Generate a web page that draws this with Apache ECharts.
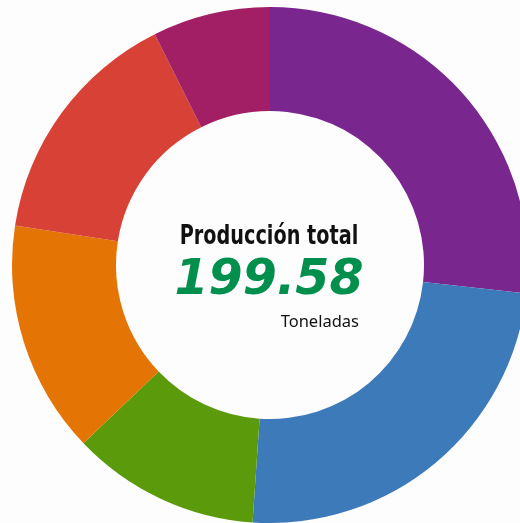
<!DOCTYPE html>
<html>
<head>
<meta charset="utf-8">
<style>
  html, body { margin: 0; padding: 0; background: #fdfdfd; }
  #chart { width: 520px; height: 523px; }
</style>
<script src="https://cdn.jsdelivr.net/npm/echarts@6/dist/echarts.min.js"></script>
</head>
<body>
<div id="chart"></div>
<script>
// data (toneladas), clockwise from 12 o'clock
const categories = ['Categoría 1', 'Categoría 2', 'Categoría 3', 'Categoría 4', 'Categoría 5', 'Categoría 6']
const values = [53.42, 48.52, 23.52, 29.12, 30.30, 14.70]
const colors = ['#7a268f', '#3d7aba', '#5b9a0b', '#e47404', '#d84136', '#a21f66']
const totalLabel = '199.58'

const myChart = echarts.init(document.getElementById('chart'))
const option = {
  backgroundColor: '#fdfdfd',
  color: colors,
  graphic: [
    {
      type: 'text',
      x: 269,
      y: 237,
      scaleX: 0.74,
      style: {
        text: 'Producción total',
        fontFamily: 'DejaVu Sans',
        fontWeight: 'bold',
        fontSize: 26,
        fill: '#111',
        align: 'center',
        verticalAlign: 'middle'
      }
    },
    {
      type: 'text',
      x: 269,
      y: 281,
      style: {
        text: totalLabel,
        fontFamily: 'DejaVu Sans',
        fontWeight: 'bold',
        fontStyle: 'italic',
        fontSize: 49,
        fill: '#008f4c',
        align: 'center',
        verticalAlign: 'middle'
      }
    },
    {
      type: 'text',
      x: 359,
      y: 322,
      style: {
        text: 'Toneladas',
        fontFamily: 'Noto Sans',
        fontSize: 16.5,
        fill: '#111',
        align: 'right',
        verticalAlign: 'middle'
      }
    }
  ],
  series: [
    {
      type: 'pie',
      center: [270, 265],
      radius: [154, 258],
      startAngle: 90,
      clockwise: true,
      silent: true,
      label: { show: false },
      labelLine: { show: false },
      itemStyle: { borderWidth: 0 },
      data: categories.map((name, i) => ({ name: name, value: values[i] }))
    }
  ]
}
myChart.setOption(option)
</script>
</body>
</html>
